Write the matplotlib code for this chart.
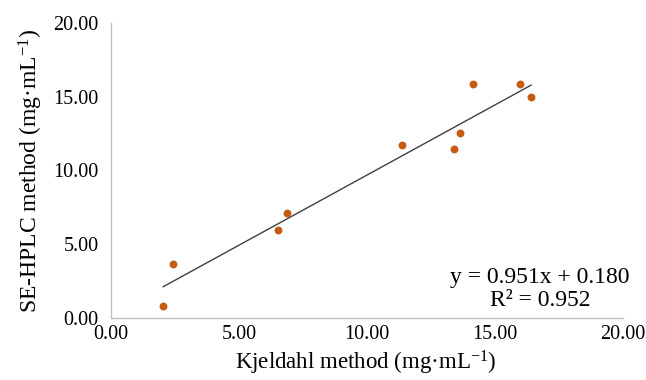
import matplotlib
matplotlib.use("Agg")
import matplotlib.pyplot as plt
import numpy as np

plt.rcParams['font.family'] = ['Liberation Serif', 'DejaVu Serif']
plt.rcParams['mathtext.fontset'] = 'custom'
plt.rcParams['mathtext.rm'] = 'Liberation Serif'
plt.rcParams['mathtext.it'] = 'Liberation Serif:italic'
plt.rcParams['mathtext.default'] = 'regular'

# Data
kjeldahl = [2.04, 2.42, 6.51, 6.89, 11.37, 13.39, 13.63, 14.13, 15.99, 16.41]
se_hplc = [0.83, 3.68, 5.97, 7.10, 11.75, 11.44, 12.54, 15.84, 15.84, 14.98]
slope = 0.951
intercept = 0.180
r_squared = 0.952
x_ticks = [0, 5, 10, 15, 20]
y_ticks = [0, 5, 10, 15, 20]

fig = plt.figure(figsize=(6.46, 3.80), dpi=100)
ax = fig.add_axes([0.1718, 0.1632, 0.7926, 0.7763])

ax.scatter(kjeldahl, se_hplc, s=32, color='#C55A11', zorder=3, linewidths=0)
xf = np.array([min(kjeldahl), max(kjeldahl)])
ax.plot(xf, slope * xf + intercept, color='#404040', lw=1.0, zorder=2)

ax.set_xlim(0, 20)
ax.set_ylim(0, 20)
ax.set_xticks(x_ticks)
ax.set_yticks(y_ticks)
ax.set_xticklabels([f"{v:.2f}" for v in x_ticks])
ax.set_yticklabels([f"{v:.2f}" for v in y_ticks])
ax.tick_params(length=0, labelsize=14.5, colors='black')
ax.tick_params(axis='x', pad=5)
ax.tick_params(axis='y', pad=9)

for s in ['top', 'right']:
    ax.spines[s].set_visible(False)
for s in ['left', 'bottom']:
    ax.spines[s].set_color('#BFBFBF')
    ax.spines[s].set_linewidth(1.0)

fig.text(0.5666, 0.008, r'Kjeldahl method (mg·mL$^{\mathrm{-1}}$)', fontsize=16.5,
         ha='center', va='bottom')
ax.set_ylabel(r'SE-HPLC method (mg·mL$^{\mathrm{-1}}$)', fontsize=17, labelpad=6)

ax.text(16.76, 1.97, f"y = {slope:.3f}x + {intercept:.3f}\nR² = {r_squared:.3f}",
        ha='center', va='center', fontsize=17, linespacing=1.1)

fig.savefig('out.png', dpi=100)
